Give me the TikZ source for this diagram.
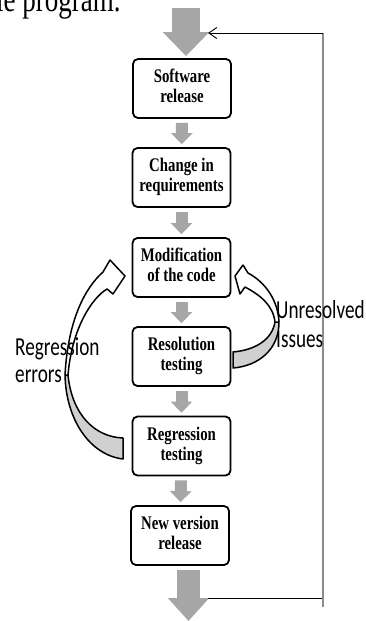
\documentclass[tikz,border=0pt]{standalone}
\usepackage{fontspec}
\setmainfont{Liberation Serif}
\newfontfamily\calfont{Carlito}
\usepackage{graphicx}
\usetikzlibrary{arrows.meta,calc}
\definecolor{arrowgray}{RGB}{166,166,166}
\definecolor{ribbongray}{RGB}{208,208,208}
\definecolor{linegray}{RGB}{140,140,140}
% two-line text of a process box, tall and narrow
\newcommand\boxlines[2]{\scalebox{1}[1.3]{\fontsize{14.8}{15.4}\selectfont\bfseries\begin{tabular}{@{}c@{}}#1\\#2\end{tabular}}}
% two-line side label; #3 is the line distance
\newcommand\sidelines[3]{\scalebox{1}[1.35]{\calfont\fontsize{19.2}{#3}\selectfont\begin{tabular}[t]{@{}l@{}}#1\\#2\end{tabular}}}

\begin{document}
\begin{tikzpicture}[x=1pt,y=-1pt,
  stepbox/.style={draw=black, line width=1.8pt, rounded corners=5pt,
    minimum width=98pt, minimum height=59pt, inner sep=0pt, fill=white},
  flowarrow/.style={draw=arrowgray, line width=12pt,
    -{Triangle[width=21pt,length=11pt]}, shorten <=4pt, shorten >=3pt},
  ribbon/.style={draw=black, line width=1.5pt, line join=round},
  backface/.style={ribbon, fill=ribbongray},
  sidelabel/.style={anchor=base west, inner sep=0pt}
]
\useasboundingbox (0,0) rectangle (366,621);
\fill[white] (0,0) rectangle (366,621);
\clip (0,0) rectangle (366,621);

% running text above the chart
\node[anchor=base west, inner sep=0pt] (pagetext) at (-4,12)
  {\scalebox{1}[1.33]{\fontsize{27}{30}\selectfont le program.}};

% process boxes
\node[stepbox] (s1) at (182,88.5)   {\boxlines{Software}{release}};
\node[stepbox] (s2) at (181.5,177.5) {\boxlines{Change in}{requirements}};
\node[stepbox] (s3) at (181.5,267.5) {\boxlines{Modification}{of the code}};
\node[stepbox] (s4) at (181.5,356.5) {\boxlines{Resolution}{testing}};
\node[stepbox] (s5) at (181.5,446)   {\boxlines{Regression}{testing}};
\node[stepbox] (s6) at (180,535.5)   {\boxlines{New version}{release}};

% arrows between the boxes
\draw[flowarrow] (s1) -- (s2);
\draw[flowarrow] (s2) -- (s3);
\draw[flowarrow] (s3) -- (s4);
\draw[flowarrow] (s4) -- (s5);
\draw[flowarrow] (s5) -- (s6);

% incoming and outgoing wide arrows
\coordinate (inflow) at (186,8);
\coordinate (outflow) at (188.5,621);
\draw[draw=arrowgray, line width=28pt, -{Triangle[width=45pt,length=24pt]},
  shorten >=2pt] (inflow) -- (inflow |- s1.north);
\draw[draw=arrowgray, line width=23pt, -{Triangle[width=40pt,length=23pt]},
  shorten <=4pt] (s6.south -| outflow) -- (outflow);

% feedback loop from the release back to the start
\coordinate (fbout) at (208,598);
\coordinate (fbcorner) at (323,598);
\coordinate (fbtop) at (323,33);
\coordinate (fbbottom) at (323,607);
\coordinate (fbin) at (208,33);
\draw[line width=0.9pt] (fbout) -- (fbcorner);
\draw[linegray, line width=1.8pt] (fbtop) -- (fbbottom);
\draw[line width=0.9pt, -{Straight Barb[length=8pt,width=11pt]}] (fbtop) -- (fbin);

% side labels
\node[sidelabel] (regerr) at (15,355) {\sidelines{Regression}{errors}{20.7}};
\node[sidelabel] (unres) at (276,318) {\sidelines{Unresolved}{Issues}{22.2}};

% curved arrow: regression errors back to the code
\draw[backface] (65,375) .. controls (66,420) and (90,455) .. (123,459)
  -- (123,438) .. controls (95,437) and (72,415) .. (68,375) -- cycle;
\draw[ribbon] (65,375) .. controls (68,320) and (85,288) .. (103,272)
  -- (110,260) -- (125,276) -- (113,294) -- (107,289)
  .. controls (92,298) and (72,328) .. (68,375);

% curved arrow: unresolved issues back to the code
\draw[backface] (275,322) .. controls (272,340) and (255,350) .. (233,352)
  -- (233,368) .. controls (258,366) and (279,350) .. (279,322) -- cycle;
\draw[ribbon] (279,322) .. controls (278,300) and (265,282) .. (248,273)
  -- (243,265) -- (235,276) -- (240,294) -- (245,287)
  .. controls (260,295) and (273,305) .. (275,322);
\end{tikzpicture}
\end{document}
